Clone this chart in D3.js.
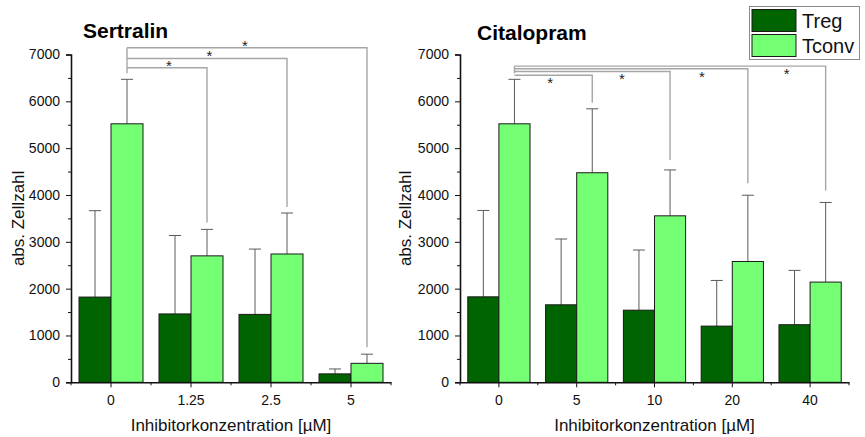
<!DOCTYPE html>
<html>
<head>
<meta charset="utf-8">
<script src="https://cdn.jsdelivr.net/npm/d3@7"></script>
<style>
  html, body { margin: 0; padding: 0; background: #fff; }
  svg { display: block; font-family: "Liberation Sans", Arial, sans-serif; }
</style>
</head>
<body>
<svg id="chart" width="865" height="437"></svg>
<script>
// Series names and colours
const seriesNames = ["Treg", "Tconv"];
const seriesColors = ["#006400", "#75ff75"];

// Sertralin panel
const sertralinDoses = ["0", "1.25", "2.5", "5"];
const sertralinTreg = [1820, 1460, 1450, 180];
const sertralinTregSD = [1845, 1675, 1395, 105];
const sertralinTconv = [5520, 2700, 2740, 405];
const sertralinTconvSD = [950, 565, 875, 195];
// significance brackets: Tconv of dose "from" vs Tconv of dose "to", bracket level in cell counts
const sertralinBrackets = [
  { from: 0, to: 1, level: 6717, star: 0.525, starSide: "above", gap: 7 },
  { from: 0, to: 2, level: 6916, star: 1.03, starSide: "above", gap: 6 },
  { from: 0, to: 3, level: 7144, star: 1.475, starSide: "above", gap: 7 }
];

// Citalopram panel
const citalopramDoses = ["0", "5", "10", "20", "40"];
const citalopramTreg = [1825, 1655, 1540, 1200, 1230];
const citalopramTregSD = [1845, 1405, 1285, 975, 1160];
const citalopramTconv = [5520, 4475, 3555, 2580, 2140];
const citalopramTconvSD = [950, 1365, 980, 1415, 1700];
const citalopramBrackets = [
  { from: 0, to: 1, level: 6558, star: 0.46, starSide: "below", gap: 6 },
  { from: 0, to: 2, level: 6637, star: 1.38, starSide: "below", gap: 10 },
  { from: 0, to: 3, level: 6695, star: 2.41, starSide: "below", gap: 12 },
  { from: 0, to: 4, level: 6751, star: 3.50, starSide: "below", gap: 12 }
];

const yTicks = [0, 1000, 2000, 3000, 4000, 5000, 6000, 7000];
const yMinorTicks = [500, 1500, 2500, 3500, 4500, 5500, 6500];

const svg = d3.select("#chart");

function drawPanel(opt) {
  const g = svg.append("g");
  const y = d3.scaleLinear().domain([0, 7000]).range([382.3, 54.5]);
  const x0 = d3.scaleBand().domain(opt.doses).range([opt.left, opt.right]).padding(0);
  const bw = x0.bandwidth();
  const x1 = d3.scaleBand().domain(seriesNames).range([bw * 0.1, bw * 0.9]).padding(0);

  const rows = opt.doses.map((d, i) => ({
    dose: d,
    vals: [
      { s: "Treg", v: opt.treg[i], sd: opt.tregSD[i], c: seriesColors[0] },
      { s: "Tconv", v: opt.tconv[i], sd: opt.tconvSD[i], c: seriesColors[1] }
    ]
  }));

  // error bars (upper whisker only), drawn beneath the bars
  const eg = g.append("g").attr("stroke", "#5a5a5a").attr("stroke-width", 1);
  rows.forEach(r => r.vals.forEach(v => {
    const cx = x0(r.dose) + x1(v.s) + x1.bandwidth() / 2;
    eg.append("line").attr("x1", cx).attr("x2", cx)
      .attr("y1", y(v.v)).attr("y2", y(v.v + v.sd));
    eg.append("line").attr("x1", cx - 6).attr("x2", cx + 6)
      .attr("y1", y(v.v + v.sd)).attr("y2", y(v.v + v.sd));
  }));

  // bars
  const groups = g.selectAll(".grp").data(rows).enter().append("g")
    .attr("transform", d => `translate(${x0(d.dose)},0)`);
  groups.selectAll("rect").data(d => d.vals).enter().append("rect")
    .attr("x", d => x1(d.s))
    .attr("y", d => y(d.v))
    .attr("width", x1.bandwidth())
    .attr("height", d => y(0) - y(d.v))
    .attr("fill", d => d.c)
    .attr("stroke", "#1a1a1a")
    .attr("stroke-width", 1);

  // significance brackets between Tconv bars
  const tconvX = i => x0(opt.doses[i]) + x1("Tconv") + x1.bandwidth() / 2;
  const bg = g.append("g").attr("stroke", "#a6a6a6").attr("stroke-width", 1.4).attr("fill", "none");
  const topLevel = d3.max(opt.brackets, b => b.level);
  const x0Start = tconvX(opt.brackets[0].from);
  const capFrom = y(opt.tconv[opt.brackets[0].from] + opt.tconvSD[opt.brackets[0].from]);
  bg.append("line").attr("x1", x0Start).attr("x2", x0Start)
    .attr("y1", y(topLevel)).attr("y2", capFrom - 6);
  opt.brackets.forEach(b => {
    const xe = tconvX(b.to);
    const ly = y(b.level);
    const capTo = y(opt.tconv[b.to] + opt.tconvSD[b.to]);
    bg.append("path").attr("d", `M${x0Start},${ly}H${xe}V${capTo - b.gap}`);
    const step = x0.step();
    const sx = x0Start + b.star * step;
    const sy = b.starSide === "above" ? ly - 5 : ly + 5;
    g.append("text").attr("x", sx).attr("y", sy + 8)
      .attr("text-anchor", "middle").attr("font-size", 15).attr("fill", "#222")
      .text("*");
  });

  // y axis
  const ya = g.append("g").attr("transform", `translate(${opt.left},0)`)
    .call(d3.axisLeft(y).tickValues(yTicks).tickSize(5).tickPadding(6).tickFormat(d3.format("d")));
  ya.select(".domain").attr("stroke", "#111").attr("stroke-width", 1.6);
  ya.selectAll(".tick line").attr("stroke", "#111");
  ya.selectAll("text").attr("font-size", 14).attr("fill", "#111")
    .attr("font-family", "Liberation Sans, Arial, sans-serif");
  const yminor = g.append("g").attr("transform", `translate(${opt.left},0)`)
    .call(d3.axisLeft(y).tickValues(yMinorTicks).tickSize(3).tickFormat(""));
  yminor.select(".domain").remove();
  yminor.selectAll("line").attr("stroke", "#111");

  // x axis
  const xa = g.append("g").attr("transform", `translate(0,${y(0)})`)
    .call(d3.axisBottom(x0).tickSize(5).tickPadding(8).tickSizeOuter(0));
  xa.select(".domain").attr("stroke", "#111").attr("stroke-width", 1.6);
  xa.selectAll(".tick line").attr("stroke", "#111");
  xa.selectAll("text").attr("font-size", 14).attr("fill", "#111")
    .attr("font-family", "Liberation Sans, Arial, sans-serif");
  // minor ticks at the group boundaries
  const bounds = opt.doses.map(d => x0(d)).concat([opt.right]);
  xa.selectAll(".minor").data(bounds).enter().append("line")
    .attr("x1", d => d).attr("x2", d => d).attr("y1", 0).attr("y2", 3)
    .attr("stroke", "#111");

  // title
  g.append("text").attr("x", opt.titleX).attr("y", opt.titleY)
    .attr("font-size", 21).attr("font-weight", "bold").attr("fill", "#000")
    .text(opt.title);

  // axis titles
  g.append("text").attr("x", (opt.left + opt.right) / 2).attr("y", 431)
    .attr("text-anchor", "middle").attr("font-size", 17).attr("fill", "#111")
    .text("Inhibitorkonzentration [µM]");
  g.append("text")
    .attr("transform", `translate(${opt.yLabelX},${(y(0) + y(7000)) / 2}) rotate(-90)`)
    .attr("text-anchor", "middle").attr("font-size", 17).attr("fill", "#111")
    .text("abs. Zellzahl");
}

drawPanel({
  doses: sertralinDoses, treg: sertralinTreg, tregSD: sertralinTregSD,
  tconv: sertralinTconv, tconvSD: sertralinTconvSD, brackets: sertralinBrackets,
  left: 71, right: 391, title: "Sertralin", titleX: 83, titleY: 38, yLabelX: 24
});

drawPanel({
  doses: citalopramDoses, treg: citalopramTreg, tregSD: citalopramTregSD,
  tconv: citalopramTconv, tconvSD: citalopramTconvSD, brackets: citalopramBrackets,
  left: 460, right: 849, title: "Citalopram", titleX: 477, titleY: 40, yLabelX: 411
});

// legend
const lg = svg.append("g");
lg.append("rect").attr("x", 749.5).attr("y", 6.5).attr("width", 110).attr("height", 53)
  .attr("fill", "#fff").attr("stroke", "#8a8a8a").attr("stroke-width", 1);
seriesNames.forEach((s, i) => {
  lg.append("rect").attr("x", 752).attr("y", 9.5 + i * 25).attr("width", 44).attr("height", 22)
    .attr("fill", seriesColors[i]).attr("stroke", "#1a1a1a").attr("stroke-width", 1);
  lg.append("text").attr("x", 802).attr("y", 28 + i * 24.5)
    .attr("font-size", 20).attr("fill", "#111").text(s);
});
</script>
</body>
</html>
